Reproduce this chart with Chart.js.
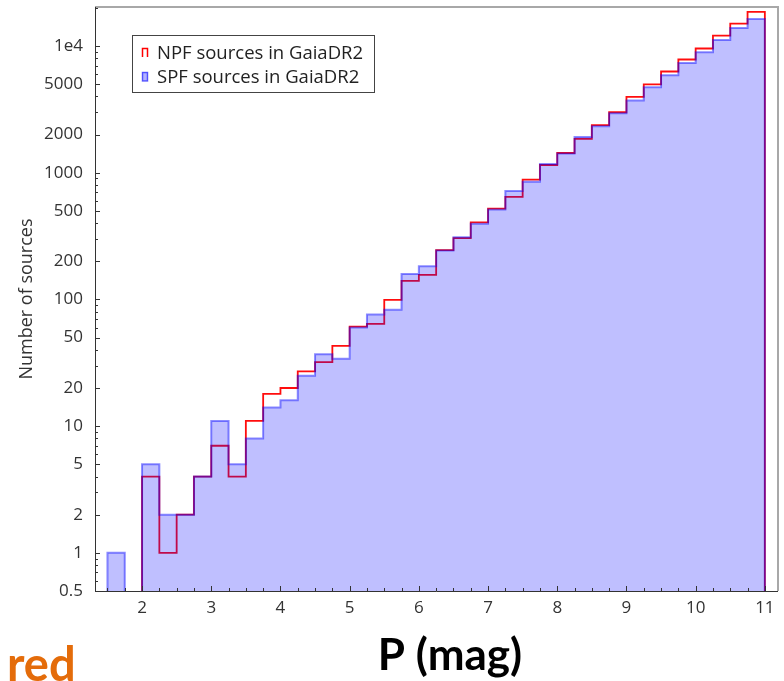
<!DOCTYPE html>
<html>
<head>
<meta charset="utf-8">
<script src="https://cdn.jsdelivr.net/npm/chart.js@4/dist/chart.umd.min.js"></script>
<style>
  html, body { margin: 0; padding: 0; background: #fff; }
  #wrap { position: relative; width: 784px; height: 681px; }
</style>
</head>
<body>
<div id="wrap"><canvas id="histChart" width="784" height="681"></canvas></div>
<script>
// bin edges (mag), 0.25 wide
const binEdges = [1.5, 1.75, 2.0, 2.25, 2.5, 2.75, 3.0, 3.25, 3.5, 3.75, 4.0, 4.25, 4.5, 4.75,
  5.0, 5.25, 5.5, 5.75, 6.0, 6.25, 6.5, 6.75, 7.0, 7.25, 7.5, 7.75, 8.0, 8.25, 8.5, 8.75,
  9.0, 9.25, 9.5, 9.75, 10.0, 10.25, 10.5, 10.75, 11.0];

// counts per bin
const npfCounts = [0, 0, 4, 1, 2, 4, 7, 4, 11, 18, 20, 27, 32, 43, 61, 64, 99, 140, 156, 245,
  304, 405, 521, 644, 881, 1150, 1430, 1850, 2370, 3000, 3960, 4970, 6290, 7820, 9550,
  12080, 15000, 18550];
const spfCounts = [1, 0, 5, 2, 2, 4, 11, 5, 8, 14, 16, 25, 37, 34, 60, 76, 83, 159, 183, 243,
  310, 395, 512, 718, 850, 1170, 1420, 1910, 2320, 2940, 3720, 4730, 5870, 7350, 8920,
  11150, 13870, 16320];

const seriesLabels = ["NPF sources in GaiaDR2", "SPF sources in GaiaDR2"];

const xTicks = [2, 3, 4, 5, 6, 7, 8, 9, 10, 11];
const yTicks = [0.5, 1, 2, 5, 10, 20, 50, 100, 200, 500, 1000, 2000, 5000, 10000];
const yTickLabels = ["0.5", "1", "2", "5", "10", "20", "50", "100", "200", "500", "1000", "2000", "5000", "1e4"];

// empty bins sit below the log axis so the outline drops out of view
const FLOOR = 0.1;

// outline of a step histogram: rise at the first filled bin, drop at the last edge
function stepPoints(counts) {
  const start = counts.findIndex(v => v > 0);
  const last = counts.length - 1;
  const pts = [{ x: binEdges[start], y: FLOOR }];
  for (let i = start; i <= last; i++) pts.push({ x: binEdges[i], y: counts[i] > 0 ? counts[i] : FLOOR });
  pts.push({ x: binEdges[last + 1], y: counts[last] });
  pts.push({ x: binEdges[last + 1], y: FLOOR });
  return pts;
}

const TICK_FONT = { family: "'Open Sans', sans-serif", size: 17 };

// frame, inward ticks, legend box and the extra captions
const decorations = {
  id: "decorations",
  afterDatasetsDraw(chart) {
    const { ctx, chartArea: a, scales } = chart;
    const x = scales.x, y = scales.y;
    ctx.save();
    // light frame top/right
    ctx.strokeStyle = "#a8a8a8";
    ctx.lineWidth = 2;
    ctx.beginPath();
    ctx.moveTo(a.left, a.top); ctx.lineTo(a.right, a.top); ctx.lineTo(a.right, a.bottom);
    ctx.stroke();
    // dark axes left/bottom
    ctx.strokeStyle = "#333";
    ctx.lineWidth = 1;
    ctx.beginPath();
    ctx.moveTo(a.left + 0.5, a.top); ctx.lineTo(a.left + 0.5, a.bottom + 0.5); ctx.lineTo(a.right, a.bottom + 0.5);
    ctx.stroke();
    // y minor ticks
    ctx.beginPath();
    for (let d = 0.1; d <= 1e4; d *= 10) {
      for (let m = 1; m <= 9; m++) {
        const v = d * m;
        if (v < y.min || v > y.max) continue;
        const py = Math.round(y.getPixelForValue(v)) + 0.5;
        const len = yTicks.includes(Math.round(v * 10) / 10) ? 5 : 3;
        ctx.moveTo(a.left, py); ctx.lineTo(a.left + len, py);
      }
    }
    // x minor ticks
    for (let i = 0; i < binEdges.length; i++) {
      const v = binEdges[i];
      const px = Math.round(x.getPixelForValue(v)) + 0.5;
      const len = Number.isInteger(v) ? 5 : 3;
      ctx.moveTo(px, a.bottom); ctx.lineTo(px, a.bottom - len);
    }
    ctx.stroke();

    // legend
    const lx = 132.5, ly = 35.5, lw = 242, lh = 57;
    ctx.fillStyle = "#fff";
    ctx.fillRect(lx, ly, lw, lh);
    ctx.strokeStyle = "#444";
    ctx.lineWidth = 1;
    ctx.strokeRect(lx, ly, lw, lh);
    // NPF icon: open step outline
    ctx.strokeStyle = "rgb(255,0,0)";
    ctx.lineWidth = 1.5;
    ctx.beginPath();
    ctx.moveTo(142.5, 57); ctx.lineTo(142.5, 48.5); ctx.lineTo(147.5, 48.5); ctx.lineTo(147.5, 57);
    ctx.stroke();
    // SPF icon: filled block
    ctx.fillStyle = "rgba(0,0,255,0.3)";
    ctx.fillRect(142, 72, 6, 9);
    ctx.strokeStyle = "rgba(0,0,255,0.55)";
    ctx.strokeRect(142.5, 72.5, 5, 8.5);
    ctx.fillStyle = "#222";
    ctx.font = "18.5px 'Open Sans', sans-serif";
    ctx.textBaseline = "middle";
    ctx.textAlign = "left";
    ctx.fillText(seriesLabels[0], 157, 53.5);
    ctx.fillText(seriesLabels[1], 157, 77.5);

    // x axis title
    ctx.fillStyle = "#000";
    ctx.font = "bold 44px Lato, sans-serif";
    ctx.textAlign = "center";
    ctx.textBaseline = "alphabetic";
    ctx.fillText("P (mag)", 450, 670);

    // corner word
    ctx.fillStyle = "#e46c0a";
    ctx.font = "bold 47px Lato, sans-serif";
    ctx.textAlign = "left";
    ctx.fillText("red", 7, 681);
    ctx.restore();
  }
};

new Chart(document.getElementById("histChart"), {
  type: "line",
  data: {
    datasets: [{
      label: seriesLabels[0],
      data: stepPoints(npfCounts),
      stepped: "before",
      borderColor: "rgba(255,0,0,0.95)",
      borderWidth: 1.8,
      pointRadius: 0,
      fill: false,
      order: 1
    }, {
      label: seriesLabels[1],
      data: stepPoints(spfCounts),
      stepped: "before",
      borderColor: "rgba(0,0,255,0.45)",
      backgroundColor: "rgba(0,0,255,0.25)",
      borderWidth: 2,
      pointRadius: 0,
      fill: "start",
      order: 0
    }]
  },
  options: {
    responsive: false,
    animation: false,
    layout: { padding: { left: 0, top: 7, right: 6, bottom: 0 } },
    plugins: {
      legend: { display: false },
      tooltip: { enabled: false }
    },
    scales: {
      x: {
        type: "linear",
        min: 1.32,
        max: 11.19,
        afterBuildTicks: s => { s.ticks = xTicks.map(v => ({ value: v })); },
        afterFit: s => { s.height = 90; s.paddingLeft = 0; s.paddingRight = 0; },
        grid: { display: false, drawTicks: false },
        border: { display: false },
        ticks: { font: TICK_FONT, color: "#333", padding: 7, maxRotation: 0, autoSkip: false }
      },
      y: {
        type: "logarithmic",
        min: 0.5,
        max: 20300,
        afterBuildTicks: s => { s.ticks = yTicks.map(v => ({ value: v })); },
        afterFit: s => { s.width = 95; s.paddingTop = 0; s.paddingBottom = 0; },
        grid: { display: false, drawTicks: false },
        border: { display: false },
        ticks: {
          font: TICK_FONT,
          color: "#333",
          padding: 12,
          autoSkip: false,
          callback: (v, i) => yTickLabels[i]
        },
        title: {
          display: true,
          text: "Number of sources",
          font: { family: "'Open Sans', sans-serif", size: 18 },
          color: "#333",
          padding: { top: 16, bottom: 0 }
        }
      }
    }
  },
  plugins: [decorations]
});
</script>
</body>
</html>
